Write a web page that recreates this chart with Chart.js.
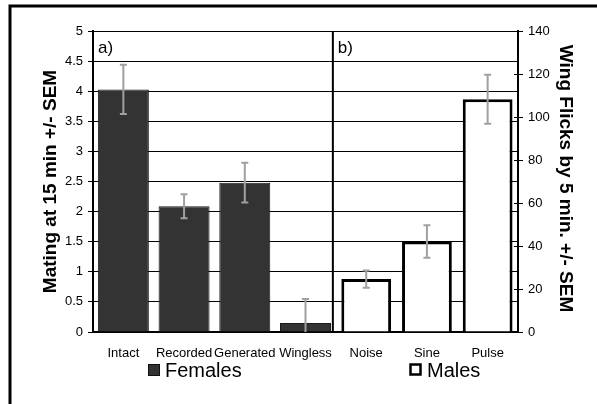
<!DOCTYPE html>
<html>
<head>
<meta charset="utf-8">
<script src="https://cdn.jsdelivr.net/npm/chart.js@4"></script>
<style>
  body { margin: 0; background: #fff; }
  #wrap { width: 597px; height: 404px; position: relative; }
</style>
</head>
<body>
<div id="wrap"><canvas id="chart"></canvas></div>
<script>
const femaleCats = ["Intact", "Recorded", "Generated", "Wingless"];
const maleCats = ["Noise", "Sine", "Pulse"];
const categories = femaleCats.concat(maleCats);

// mating at 15 min (left axis)
const femaleValues = [4.03, 2.09, 2.48, 0.15];
const femaleSem = [0.41, 0.2, 0.33, 0.4];
// wing flicks by 5 min (right axis)
const maleValues = [24.6, 42.1, 108.3];
const maleSem = [4, 7.6, 11.4];

const leftMax = 5, leftStep = 0.5;
const rightMax = 140, rightStep = 20;

const leftTitle = "Mating at 15 min +/- SEM";
const rightTitle = "Wing Flicks by 5 min. +/- SEM";
const panelLabels = ["a)", "b)"];
const legendLabels = ["Females", "Males"];

const pad = (n) => new Array(n).fill(null);
const femaleData = femaleValues.concat(pad(maleCats.length));
const maleData = pad(femaleCats.length).concat(maleValues);
const femaleErr = femaleSem.concat(pad(maleCats.length));
const maleErr = pad(femaleCats.length).concat(maleSem);

const FONT = "'Liberation Sans', Arial, sans-serif";

// frame, divider, labels, error bars, titles, legend
const extras = {
  id: "extras",
  beforeDraw(chart) {
    const ctx = chart.ctx;
    ctx.save();
    ctx.strokeStyle = "#000";
    ctx.lineWidth = 3;
    ctx.beginPath();
    ctx.moveTo(10, 404);
    ctx.lineTo(10, 6);
    ctx.lineTo(597, 6);
    ctx.stroke();
    ctx.restore();
  },
  afterDatasetsDraw(chart) {
    const ctx = chart.ctx;
    const area = chart.chartArea;
    const x = chart.scales.x;
    const y = chart.scales.y;
    const y1 = chart.scales.y1;

    // error bars
    ctx.save();
    ctx.beginPath();
    ctx.rect(area.left, area.top - 10, area.right - area.left, area.bottom - area.top + 10);
    ctx.clip();
    ctx.strokeStyle = "#a0a0a0";
    ctx.lineWidth = 2;
    const drawErr = (vals, errs, scale) => {
      vals.forEach((v, i) => {
        if (v === null) return;
        const cx = x.getPixelForValue(i);
        const top = scale.getPixelForValue(v + errs[i]);
        const bot = scale.getPixelForValue(v - errs[i]);
        ctx.beginPath();
        ctx.moveTo(cx, top); ctx.lineTo(cx, bot);
        ctx.moveTo(cx - 3.5, top); ctx.lineTo(cx + 3.5, top);
        ctx.moveTo(cx - 3.5, bot); ctx.lineTo(cx + 3.5, bot);
        ctx.stroke();
      });
    };
    drawErr(femaleData, femaleErr, y);
    drawErr(maleData, maleErr, y1);
    ctx.restore();

    // divider between panels
    const divX = (x.getPixelForValue(femaleCats.length - 1) + x.getPixelForValue(femaleCats.length)) / 2 - 3;
    ctx.save();
    ctx.strokeStyle = "#000";
    ctx.lineWidth = 2;
    ctx.beginPath();
    ctx.moveTo(divX, area.top);
    ctx.lineTo(divX, area.bottom);
    ctx.stroke();

    // inner half of right axis ticks
    ctx.lineWidth = 1;
    y1.ticks.forEach((t) => {
      const py = Math.round(y1.getPixelForValue(t.value)) + 0.5;
      ctx.beginPath();
      ctx.moveTo(area.right - 4, py);
      ctx.lineTo(area.right, py);
      ctx.stroke();
    });

    // panel labels
    ctx.fillStyle = "#000";
    ctx.font = "17px " + FONT;
    ctx.textBaseline = "alphabetic";
    ctx.fillText(panelLabels[0], area.left + 5, 53);
    ctx.fillText(panelLabels[1], divX + 5, 53);

    // axis titles
    ctx.font = "bold 19px " + FONT;
    ctx.textAlign = "center";
    ctx.textBaseline = "middle";
    ctx.save();
    ctx.translate(51, (area.top + area.bottom) / 2);
    ctx.rotate(-Math.PI / 2);
    ctx.fillText(leftTitle, 0, 0);
    ctx.restore();
    ctx.save();
    ctx.translate(565, (area.top + area.bottom) / 2 - 3);
    ctx.rotate(Math.PI / 2);
    ctx.fillText(rightTitle, 0, 0);
    ctx.restore();

    // legend
    ctx.textAlign = "left";
    ctx.textBaseline = "alphabetic";
    ctx.font = "20px " + FONT;
    ctx.fillStyle = "#333";
    ctx.fillRect(148, 364, 12, 12);
    ctx.strokeStyle = "#111";
    ctx.lineWidth = 1;
    ctx.strokeRect(148.5, 364.5, 11, 11);
    ctx.fillStyle = "#000";
    ctx.fillText(legendLabels[0], 165, 377);
    ctx.lineWidth = 2.5;
    ctx.strokeStyle = "#000";
    ctx.strokeRect(410.5, 364.5, 10, 10);
    ctx.fillText(legendLabels[1], 427, 377);
    ctx.restore();
  }
};

const plainNum = (v) => String(Math.round(v * 100) / 100);

new Chart(document.getElementById("chart"), {
  type: "bar",
  data: {
    labels: categories,
    datasets: [
      {
        label: legendLabels[0],
        data: femaleData,
        yAxisID: "y",
        backgroundColor: "#333333",
        borderColor: "#1a1a1a",
        borderWidth: 1,
        grouped: false,
        categoryPercentage: 1,
        barPercentage: 0.84,
      },
      {
        label: legendLabels[1],
        data: maleData,
        yAxisID: "y1",
        backgroundColor: "#ffffff",
        borderColor: "#000000",
        borderWidth: 3,
        grouped: false,
        categoryPercentage: 1,
        barPercentage: 0.82,
      },
    ],
  },
  options: {
    responsive: true,
    maintainAspectRatio: false,
    animation: false,
    layout: { padding: { top: 31, left: 0, right: 0, bottom: 0 } },
    plugins: {
      legend: { display: false },
      tooltip: { enabled: false },
    },
    scales: {
      x: {
        grid: { display: false, drawTicks: false },
        border: { display: true, color: "#000", width: 2 },
        ticks: { color: "#000", font: { family: FONT, size: 13 }, padding: 14, maxRotation: 0, autoSkip: false },
        afterFit(scale) { scale.height = 72; },
      },
      y: {
        position: "left",
        min: 0,
        max: leftMax,
        ticks: { stepSize: leftStep, color: "#000", font: { family: FONT, size: 13 }, padding: 5, callback: plainNum },
        grid: { color: "#000", lineWidth: 1, tickLength: 5 },
        border: { color: "#000", width: 2 },
        afterFit(scale) { scale.width = 93; },
      },
      y1: {
        position: "right",
        min: 0,
        max: rightMax,
        ticks: { stepSize: rightStep, color: "#000", font: { family: FONT, size: 13 }, padding: 5, callback: plainNum },
        grid: { drawOnChartArea: false, color: "#000", lineWidth: 1, tickLength: 5 },
        border: { color: "#000", width: 2 },
        afterFit(scale) { scale.width = 79; },
      },
    },
  },
  plugins: [extras],
});
</script>
</body>
</html>
